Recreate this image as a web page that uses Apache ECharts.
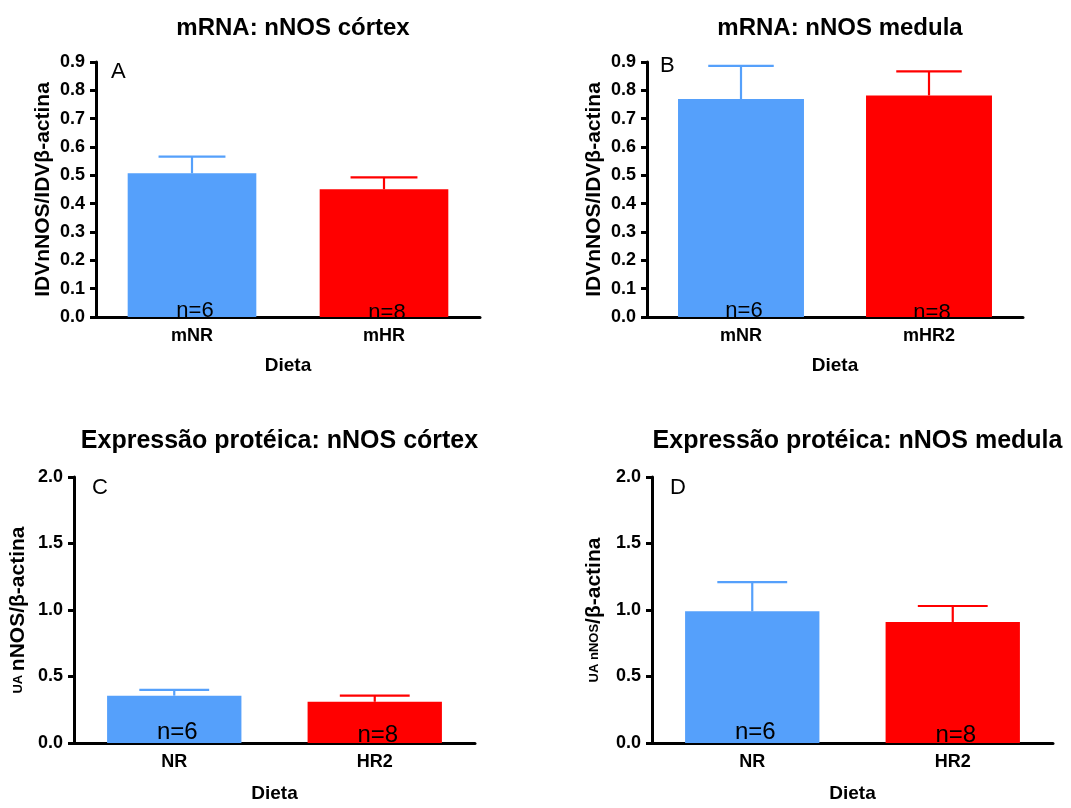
<!DOCTYPE html>
<html>
<head>
<meta charset="utf-8">
<script src="https://cdn.jsdelivr.net/npm/echarts@6/dist/echarts.min.js"></script>
<style>
html,body{margin:0;padding:0;background:#fff;}
#chart{width:1071px;height:808px;}
</style>
</head>
<body>
<div id="chart"></div>
<script>
// ---- data ----
const categoriesA = ['mNR', 'mHR'];
const categoriesB = ['mNR', 'mHR2'];
const categoriesC = ['NR', 'HR2'];
const categoriesD = ['NR', 'HR2'];
const meanA = [0.507, 0.451];
const semA = [0.059, 0.042];
const meanB = [0.769, 0.782];
const semB = [0.117, 0.085];
const meanC = [0.356, 0.310];
const semC = [0.044, 0.046];
const meanD = [0.99, 0.91];
const semD = [0.22, 0.12];
const nLabels = ['n=6', 'n=8'];
const titles = ['mRNA: nNOS córtex', 'mRNA: nNOS medula', 'Expressão protéica: nNOS córtex', 'Expressão protéica: nNOS medula'];
const panelLetters = ['A', 'B', 'C', 'D'];
const yNames = ['IDVnNOS/IDVβ-actina', 'IDVnNOS/IDVβ-actina', '{s|UA }{b|nNOS/β-actina}', '{s|UA nNOS}{b|/β-actina}'];
const xName = 'Dieta';
const yMaxTop = 0.9, yIntTop = 0.1;
const yMaxBot = 2.0, yIntBot = 0.5;

// ---- styling ----
const FONT = "'Liberation Sans', Arial, sans-serif";
const colors = ['#55A0FB', '#FF0000'];
const grids = [
  {left: 96, top: 62, width: 384, height: 255},
  {left: 647, top: 62, width: 376, height: 255},
  {left: 74, top: 477, width: 401, height: 266},
  {left: 652, top: 477, width: 401, height: 266}
];
const panels = [
  {cats: categoriesA, mean: meanA, sem: semA, max: yMaxTop, interval: yIntTop, top: true},
  {cats: categoriesB, mean: meanB, sem: semB, max: yMaxTop, interval: yIntTop, top: true},
  {cats: categoriesC, mean: meanC, sem: semC, max: yMaxBot, interval: yIntBot, top: false},
  {cats: categoriesD, mean: meanD, sem: semD, max: yMaxBot, interval: yIntBot, top: false}
];
const nameGaps = [42, 42, 45, 47];
const letterPos = [[111, 61], [660, 55], [92, 477], [670, 477]];

const xAxes = [], yAxes = [], series = [], titleArr = [], graphics = [];
const BAR_FRAC = 0.67;

panels.forEach((p, i) => {
  const g = grids[i];
  titleArr.push({
    text: titles[i],
    left: g.left + g.width / 2,
    top: p.top ? 11 : 424,
    textAlign: 'center',
    textStyle: {fontFamily: FONT, fontWeight: 'bold', fontSize: p.top ? 24 : 25, color: '#000'}
  });
  xAxes.push({
    type: 'category', gridIndex: i, data: p.cats,
    axisLine: {lineStyle: {color: '#000', width: 3}},
    axisTick: {alignWithLabel: true, length: 7, lineStyle: {color: '#000', width: 3}},
    axisLabel: {color: '#000', fontFamily: FONT, fontWeight: 'bold', fontSize: 18, margin: 10},
    name: xName, nameLocation: 'middle', nameGap: p.top ? 39 : 41,
    nameTextStyle: {color: '#000', fontFamily: FONT, fontWeight: 'bold', fontSize: 19}
  });
  const richName = {
    s: {fontFamily: FONT, fontWeight: 'bold', fontSize: 13, color: '#000'},
    b: {fontFamily: FONT, fontWeight: 'bold', fontSize: 21, color: '#000'}
  };
  yAxes.push({
    type: 'value', gridIndex: i, min: 0, max: p.max, interval: p.interval,
    axisLine: {show: true, lineStyle: {color: '#000', width: 3}},
    axisTick: {show: true, length: 6, lineStyle: {color: '#000', width: 3}},
    splitLine: {show: false},
    axisLabel: {color: '#000', fontFamily: FONT, fontWeight: 'bold', fontSize: 18, margin: 11,
      formatter: v => v.toFixed(1)},
    name: yNames[i], nameLocation: 'middle', nameGap: nameGaps[i],
    nameTextStyle: {color: '#000', fontFamily: FONT, fontWeight: 'bold', fontSize: 21, rich: richName}
  });
  series.push({
    type: 'bar', xAxisIndex: i, yAxisIndex: i,
    barWidth: (BAR_FRAC * 100) + '%',
    data: p.mean.map((v, k) => ({
      value: v,
      itemStyle: {color: colors[k]},
      label: {offset: [3, p.top ? (k === 0 ? 5 : 7) : (k === 0 ? 1 : 4)]}
    })),
    label: {
      show: true, position: 'insideBottom', distance: 0,
      formatter: prm => nLabels[prm.dataIndex],
      color: '#000', fontFamily: FONT, fontSize: p.top ? 22 : 24
    },
    emphasis: {disabled: true},
    z: 2
  });
  series.push({
    type: 'custom', xAxisIndex: i, yAxisIndex: i,
    data: p.mean.map((v, k) => [k, v, p.sem[k]]),
    renderItem: (params, api) => {
      const k = api.value(0);
      const base = api.coord([k, api.value(1)]);
      const top = api.coord([k, api.value(1) + api.value(2)]);
      const bw = api.size([1, 0])[0] * BAR_FRAC;
      const half = bw * 0.26;
      const c = colors[k];
      return {
        type: 'group',
        children: [
          {type: 'line', shape: {x1: base[0], y1: base[1], x2: top[0], y2: top[1]}, style: {stroke: c, lineWidth: 2.2}},
          {type: 'line', shape: {x1: top[0] - half, y1: top[1], x2: top[0] + half, y2: top[1]}, style: {stroke: c, lineWidth: 2.2}}
        ]
      };
    },
    z: 3, silent: true
  });
  graphics.push({
    type: 'text', left: letterPos[i][0], top: letterPos[i][1],
    style: {text: panelLetters[i], font: '22px ' + FONT, fill: '#000'}
  });
});

const chart = echarts.init(document.getElementById('chart'), null, {renderer: 'canvas'});
chart.setOption({
  animation: false,
  backgroundColor: '#fff',
  title: titleArr,
  grid: grids,
  xAxis: xAxes,
  yAxis: yAxes,
  series: series,
  graphic: graphics
});
</script>
</body>
</html>
